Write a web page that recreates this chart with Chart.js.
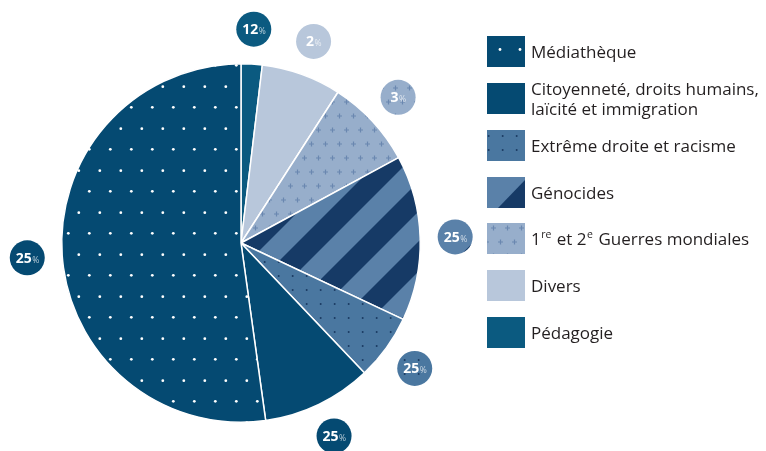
<!DOCTYPE html>
<html>
<head>
<meta charset="utf-8">
<script src="https://cdn.jsdelivr.net/npm/chart.js@4/dist/chart.umd.min.js"></script>
<style>
  html, body { margin: 0; padding: 0; background: #fff; }
  canvas { display: block; }
</style>
</head>
<body>
<canvas id="chart" width="766" height="451"></canvas>
<script>
// slices, clockwise from 12 o'clock
const categories = [
  'Pédagogie',
  'Divers',
  '1^re et 2^e Guerres mondiales',
  'Génocides',
  'Extrême droite et racisme',
  'Citoyenneté, droits humains,\nlaïcité et immigration',
  'Médiathèque'
];
const values = [1.9, 7.2, 8.0, 14.9, 5.9, 9.9, 52.2];
// numbers printed in the round badges (as in the source picture)
const badgeLabels = ['12', '2', '3', '25', '25', '25', '25'];

const FONT = '"Open Sans", "Noto Sans", sans-serif';

function makePattern(w, h, draw) {
  const c = document.createElement('canvas');
  c.width = w; c.height = h;
  draw(c.getContext('2d'), w, h);
  return c.getContext('2d').createPattern(c, 'repeat');
}

const NAVY = '#054a72';
const STRIPE_LIGHT = '#5a81a9';
const STRIPE_DARK = '#163a66';

const dotsWhite = makePattern(21, 42, (g, w, h) => {
  g.fillStyle = NAVY; g.fillRect(0, 0, w, h);
  g.fillStyle = '#ffffff';
  [[5.3, 23.3], [15.8, 2.7]].forEach(([x, y]) => {
    g.beginPath(); g.arc(x, y, 1.4, 0, Math.PI * 2); g.fill();
  });
});

const dotsDark = makePattern(14, 14, (g, w, h) => {
  g.fillStyle = '#4a77a0'; g.fillRect(0, 0, w, h);
  g.fillStyle = '#1b3a63';
  g.beginPath(); g.arc(12.7, 10, 1.0, 0, Math.PI * 2); g.fill();
});

const stripes = makePattern(60, 60, (g, w, h) => {
  g.fillStyle = STRIPE_LIGHT; g.fillRect(0, 0, w, h);
  g.fillStyle = STRIPE_DARK;
  // bands along x + y = const ("/" direction)
  for (let k = -2; k <= 2; k++) {
    const a = k * 60;
    g.beginPath();
    g.moveTo(a, 0); g.lineTo(a + 30, 0);
    g.lineTo(a + 30 - 60, 60); g.lineTo(a - 60, 60);
    g.closePath(); g.fill();
  }
});

const crosses = makePattern(14, 28, (g, w, h) => {
  g.fillStyle = '#97aecb'; g.fillRect(0, 0, w, h);
  g.strokeStyle = '#6a87b0'; g.lineWidth = 1.2;
  [[3.5, 4], [10.5, 18]].forEach(([x, y]) => {
    g.beginPath();
    g.moveTo(x - 2.5, y); g.lineTo(x + 2.5, y);
    g.moveTo(x, y - 2.5); g.lineTo(x, y + 2.5);
    g.stroke();
  });
});

const fills = ['#0b5a80', '#b8c7db', crosses, stripes, dotsDark, NAVY, dotsWhite];

// draw "text^sup" with small raised parts
function drawRich(ctx, line, x, y) {
  const parts = line.split(/(\^\w+)/).filter(s => s.length);
  let cx = x;
  parts.forEach(p => {
    if (p[0] === '^') {
      ctx.font = '10.5px ' + FONT;
      ctx.fillText(p.slice(1), cx + 0.5, y - 6.5);
      cx += ctx.measureText(p.slice(1)).width + 1.5;
    } else {
      ctx.font = '17px ' + FONT;
      ctx.fillText(p, cx, y);
      cx += ctx.measureText(p).width;
    }
  });
}

const badgePlugin = {
  id: 'badges',
  afterDatasetsDraw(chart) {
    const ctx = chart.ctx;
    const meta = chart.getDatasetMeta(0);
    const R = 17.5;
    meta.data.forEach((arc, i) => {
      const p = arc.getProps(['x', 'y', 'startAngle', 'endAngle', 'outerRadius'], true);
      const mid = (p.startAngle + p.endAngle) / 2;
      const d = p.outerRadius + 35;
      const bx = p.x + Math.cos(mid) * d;
      const by = p.y + Math.sin(mid) * d;
      ctx.save();
      ctx.beginPath();
      ctx.arc(bx, by, R, 0, Math.PI * 2);
      if (i === 3) {
        ctx.fillStyle = STRIPE_LIGHT; ctx.fill();
        ctx.save();
        ctx.clip();
        ctx.fillStyle = STRIPE_DARK;
        ctx.beginPath();
        ctx.moveTo(bx + 4, by + R + 2);
        ctx.lineTo(bx + R + 2, by + 4);
        ctx.lineTo(bx + R + 2, by + R + 2);
        ctx.closePath(); ctx.fill();
        ctx.restore();
      } else {
        ctx.fillStyle = i === 6 ? NAVY : fills[i];
        ctx.fill();
      }
      ctx.textBaseline = 'alphabetic';
      ctx.font = 'bold 14px ' + FONT;
      const w1 = ctx.measureText(badgeLabels[i]).width;
      ctx.font = '8.5px ' + FONT;
      const w2 = ctx.measureText('%').width;
      const sx = bx - (w1 + w2) / 2;
      ctx.fillStyle = '#ffffff';
      ctx.font = 'bold 14px ' + FONT;
      ctx.fillText(badgeLabels[i], sx, by + 5);
      ctx.fillStyle = 'rgba(255,255,255,0.7)';
      ctx.font = '8.5px ' + FONT;
      ctx.fillText('%', sx + w1 + 0.5, by + 5);
      ctx.restore();
    });
  }
};

const legendPlugin = {
  id: 'sideLegend',
  afterDraw(chart) {
    const ctx = chart.ctx;
    const boxX = 487, boxW = 38, boxH = 31;
    const tops = [36, 83, 130, 177, 223, 270, 317];
    const order = categories.map((_, i) => i).reverse();
    ctx.save();
    order.forEach((i, row) => {
      const top = tops[row];
      ctx.fillStyle = fills[i];
      ctx.fillRect(boxX, top, boxW, boxH);
      if (i === 6) {
        ctx.fillStyle = NAVY; ctx.fillRect(boxX, top, boxW, boxH);
        ctx.fillStyle = '#fff';
        [[500, top + 13.5], [520, top + 13.5]].forEach(([x, y]) => {
          ctx.beginPath(); ctx.arc(x, y, 1.4, 0, Math.PI * 2); ctx.fill();
        });
      }
      if (i === 3) {
        ctx.fillStyle = STRIPE_LIGHT; ctx.fillRect(boxX, top, boxW, boxH);
        ctx.fillStyle = STRIPE_DARK;
        ctx.beginPath();
        ctx.moveTo(boxX + 11, top + boxH);
        ctx.lineTo(boxX + boxW, top + boxH);
        ctx.lineTo(boxX + boxW, top + 3);
        ctx.closePath(); ctx.fill();
      }
      const lines = categories[i].split('\n');
      ctx.fillStyle = '#231f20';
      ctx.textBaseline = 'alphabetic';
      const lh = 20;
      const cy = top + boxH / 2 - (lines.length - 1) * lh / 2;
      lines.forEach((ln, k) => drawRich(ctx, ln, 531, cy + k * lh + 6));
    });
    ctx.restore();
  }
};

new Chart(document.getElementById('chart'), {
  type: 'pie',
  data: {
    labels: categories.map(c => c.replace(/\^/g, '').replace('\n', ' ')),
    datasets: [{
      data: values,
      backgroundColor: fills,
      borderColor: '#ffffff',
      borderWidth: 1.5
    }]
  },
  options: {
    responsive: false,
    animation: false,
    layout: { padding: { left: 61, top: 63, right: 345, bottom: 28 } },
    plugins: {
      legend: { display: false },
      tooltip: { enabled: false }
    }
  },
  plugins: [badgePlugin, legendPlugin]
});
</script>
</body>
</html>
